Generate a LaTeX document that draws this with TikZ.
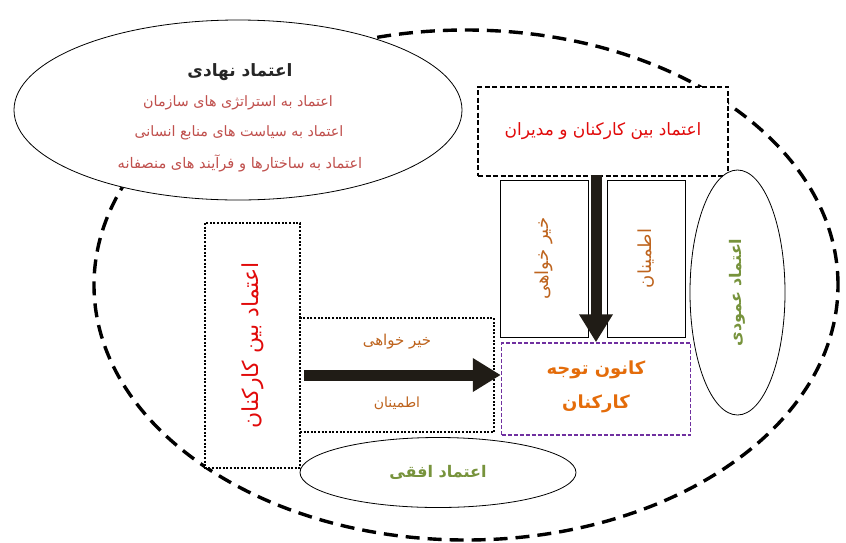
\documentclass[tikz,border=0pt]{standalone}
\usepackage{fontspec}
\usepackage{tikz}
\usetikzlibrary{shapes.geometric,arrows.meta}
\TeXXeTstate=1
\newfontfamily\fa[Script=Arabic]{DejaVu Sans}
\definecolor{rosered}{RGB}{192,80,77}
\definecolor{trustred}{RGB}{225,10,10}
\definecolor{brownorange}{RGB}{190,100,30}
\definecolor{focusorange}{RGB}{228,108,10}
\definecolor{olivegreen}{RGB}{119,147,60}
\definecolor{focuspurple}{RGB}{112,48,160}
\definecolor{arrowdark}{RGB}{32,28,22}

\begin{document}
\begin{tikzpicture}[x=1pt,y=-1pt,
  oval/.style={ellipse,draw,line width=0.8pt,fill=white,inner sep=0pt},
  solidbox/.style={draw,line width=0.8pt,fill=white,inner sep=0pt},
  dotbox/.style={draw,fill=white,inner sep=0pt,dash pattern=on 2pt off 1.6pt},
  bigarrow/.style={draw=arrowdark,line width=11pt,-{Triangle[length=28pt,width=32pt]}},
  fatext/.style={font=\fa\fontsize{#1}{#1}\selectfont},
  fabold/.style={font=\fa\bfseries\fontsize{#1}{#1}\selectfont}]
\useasboundingbox (0,0) rectangle (846,542);
\node [ellipse,draw,line width=3.4pt,dash pattern=on 14pt off 8pt,
  minimum width=744pt,minimum height=510pt] (org) at (466,285) {};
\node [oval,minimum width=448pt,minimum height=180pt] (inst) at (238,110) {};
\node [fabold=17,text=black!85] (instT) at (240,72) {\beginR اعتماد نهادی\endR};
\node [fatext=14.3,text=rosered] (inst1) at (238,103) {\beginR اعتماد به استراتژی های سازمان\endR};
\node [fatext=14.3,text=rosered] (inst2) at (239,133) {\beginR اعتماد به سیاست های منابع انسانی\endR};
\node [fatext=14.6,text=rosered] (inst3) at (240,163) {\beginR اعتماد به ساختارها و فرآیند های منصفانه\endR};
\node [solidbox,dash pattern=on 5pt off 2.5pt,line width=2pt,
  minimum width=250pt,minimum height=89pt,fatext=17,text=trustred]
  (mgr) at (603,131) {\beginR اعتماد بین کارکنان و مدیران\endR};
\node [solidbox,rotate=90,minimum width=157pt,minimum height=88pt,fatext=18,text=brownorange]
  (ben) at (544,258.5) {\beginR خیر خواهی\endR};
\node [solidbox,rotate=90,minimum width=157pt,minimum height=78pt,fatext=18,text=brownorange]
  (rel) at (646,258.5) {\beginR اطمینان\endR};
\node [solidbox,draw=focuspurple,dash pattern=on 4pt off 2pt,line width=1.5pt,
  minimum width=189pt,minimum height=92pt] (focus) at (596,389) {};
\node [fabold=18,text=focusorange] (focusA) at (596,370) {\beginR کانون توجه\endR};
\node [fabold=18,text=focusorange] (focusB) at (596,404) {\beginR کارکنان\endR};
\node [oval,rotate=90,minimum width=245pt,minimum height=95pt,fabold=16,text=olivegreen]
  (vert) at (737.5,292.5) {\beginR اعتماد عمودی\endR};
\node [dotbox,rotate=90,line width=2.6pt,minimum width=245pt,minimum height=95pt,
  fatext=22,text=trustred] (peer) at (252.5,345.5) {\beginR اعتماد بین کارکنان\endR};
\node [dotbox,line width=1.8pt,minimum width=194pt,minimum height=114pt] (mid) at (397,375) {};
\node [fatext=15,text=brownorange] (midA) at (397,342) {\beginR خیر خواهی\endR};
\node [fatext=14,text=brownorange] (midB) at (397,403) {\beginR اطمینان\endR};
\node [oval,minimum width=276pt,minimum height=70pt,fabold=16,text=olivegreen]
  (horiz) at (438,472.5) {\beginR اعتماد افقی\endR};
\draw [bigarrow] ([xshift=5pt]mid.west) -- (mid.west -| focus.west);
\draw [bigarrow] ([yshift=2pt]mgr.south -| focus.north) -- (focus.north);
\end{tikzpicture}
\end{document}
